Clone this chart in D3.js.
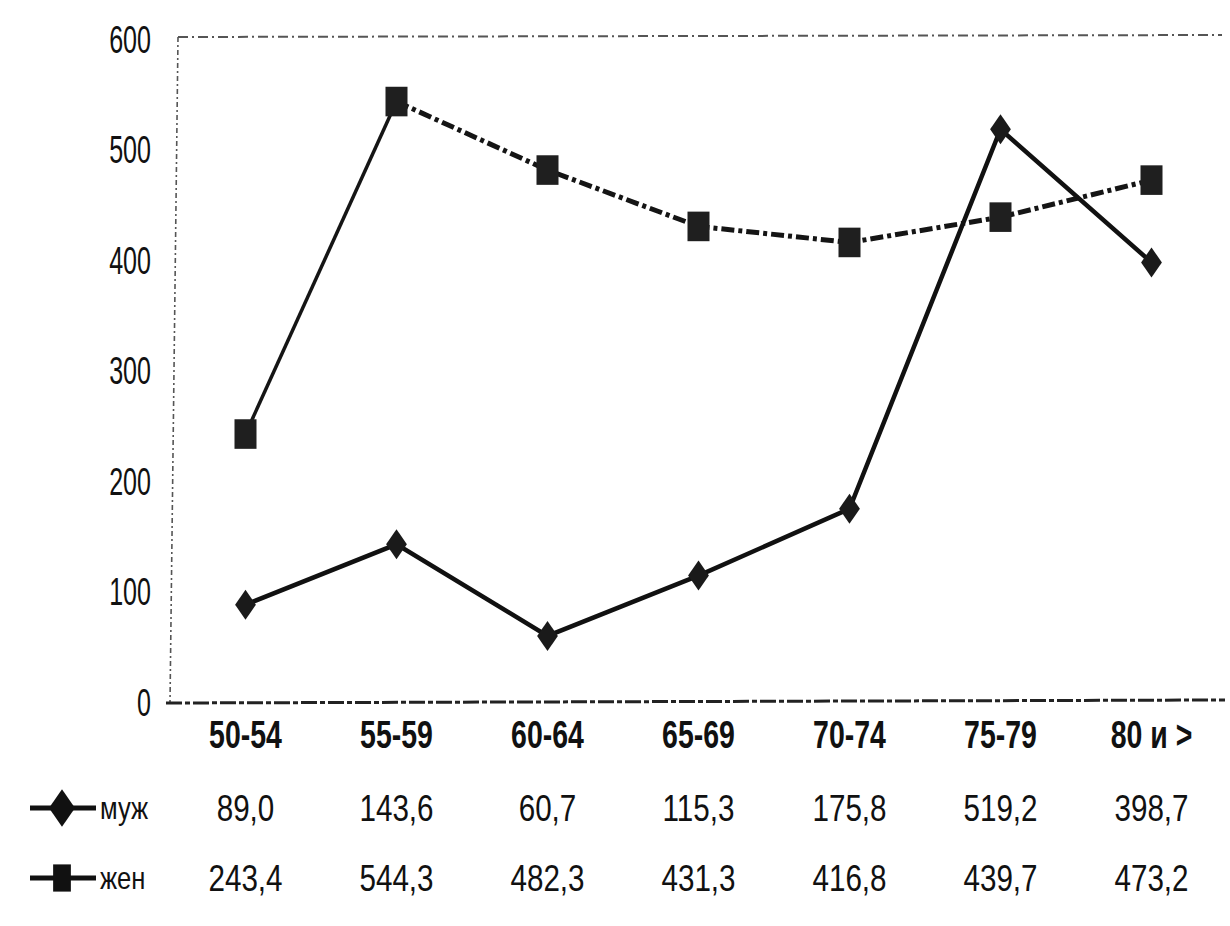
<!DOCTYPE html>
<html>
<head>
<meta charset="utf-8">
<script src="https://cdn.jsdelivr.net/npm/d3@7"></script>
<style>
  body { margin: 0; background: #fff; }
  svg text { font-family: "Liberation Sans", Arial, sans-serif; fill: #111; }
</style>
</head>
<body>
<div id="chart"></div>
<script>
// age groups and rates (per 100 000)
var ageGroups = ["50-54", "55-59", "60-64", "65-69", "70-74", "75-79", "80 и >"];
var maleValues = [89.0, 143.6, 60.7, 115.3, 175.8, 519.2, 398.7];
var femaleValues = [243.4, 544.3, 482.3, 431.3, 416.8, 439.7, 473.2];
var yTicks = [0, 100, 200, 300, 400, 500, 600];

var width = 1230, height = 926;

var svg = d3.select("#chart")
    .append("svg")
    .attr("width", width)
    .attr("height", height);

var x = d3.scaleBand()
    .domain(ageGroups)
    .range([170, 1227]);

var y = d3.scaleLinear()
    .domain([0, 600])
    .range([703, 40]);

var cx = function(d, i) { return x(ageGroups[i]) + x.bandwidth() / 2; };

// frame: dash-dot top, dashed left, heavy dashed baseline
svg.append("line")
    .attr("x1", 178).attr("x2", 1222)
    .attr("y1", y(600) - 3).attr("y2", y(600) - 5)
    .attr("stroke", "#555").attr("stroke-width", 2)
    .attr("stroke-dasharray", "10,4,2,4");

svg.append("line")
    .attr("x1", 178).attr("x2", 170)
    .attr("y1", y(600) - 3).attr("y2", y(0))
    .attr("stroke", "#555").attr("stroke-width", 1.6)
    .attr("stroke-dasharray", "5,3,2,3");

svg.append("line")
    .attr("x1", 166).attr("x2", 1225)
    .attr("y1", y(0)).attr("y2", y(0) - 3)
    .attr("stroke", "#222").attr("stroke-width", 3)
    .attr("stroke-dasharray", "16,3,5,3");

// y axis labels (tall, narrow, light)
var yAxis = d3.axisLeft(y)
    .tickValues(yTicks)
    .tickSize(0)
    .tickPadding(0)
    .tickFormat(d3.format("d"));

svg.append("g")
    .attr("transform", "translate(151,0)")
    .call(yAxis)
    .call(function(g) { g.select(".domain").remove(); })
    .selectAll("text")
    .attr("font-size", 38)
    .attr("font-family", "'Liberation Sans', sans-serif")
    .attr("transform", "scale(0.66,1)")
    .attr("fill", "#2a2a2a");

// x axis category labels
var xAxis = d3.axisBottom(x).tickSize(0).tickPadding(0);

svg.append("g")
    .attr("transform", "translate(0,720)")
    .call(xAxis)
    .call(function(g) { g.select(".domain").remove(); })
    .selectAll("text")
    .attr("font-size", 39)
    .attr("font-weight", "bold")
    .attr("font-family", "'Liberation Sans', sans-serif")
    .attr("transform", "scale(0.73,1)")
    .attr("fill", "#111");

var line = d3.line()
    .x(function(d) { return d.x; })
    .y(function(d) { return y(d.v); });

var femalePts = femaleValues.map(function(v, i) { return { x: cx(v, i), v: v }; });
var malePts = maleValues.map(function(v, i) { return { x: cx(v, i), v: v }; });

// жен: first segment printed solid, the rest dash-dot, square markers
svg.append("path")
    .datum(femalePts.slice(0, 2))
    .attr("d", line)
    .attr("fill", "none")
    .attr("stroke", "#151515")
    .attr("stroke-width", 3.5);

svg.append("path")
    .datum(femalePts.slice(1))
    .attr("d", line)
    .attr("fill", "none")
    .attr("stroke", "#151515")
    .attr("stroke-width", 5)
    .attr("stroke-dasharray", "13,4,4,4");

// муж: solid line with diamonds
svg.append("path")
    .datum(malePts)
    .attr("d", line)
    .attr("fill", "none")
    .attr("stroke", "#111")
    .attr("stroke-width", 4.5);

var diamond = d3.symbol().type(d3.symbolDiamond).size(260);
var square = d3.symbol().type(d3.symbolSquare).size(560);

svg.selectAll(".m-marker")
    .data(malePts)
    .enter()
    .append("path")
    .attr("class", "m-marker")
    .attr("d", diamond)
    .attr("transform", function(d) { return "translate(" + d.x + "," + y(d.v) + ") scale(1.2,1)"; })
    .attr("fill", "#1a1a1a");

svg.selectAll(".f-marker")
    .data(femalePts)
    .enter()
    .append("path")
    .attr("class", "f-marker")
    .attr("d", square)
    .attr("transform", function(d) { return "translate(" + d.x + "," + y(d.v) + ") scale(0.93,1.25)"; })
    .attr("fill", "#1f1f1f");

// data table under the axis
var fmt = function(v) { return v.toFixed(1).replace(".", ","); };
var rows = [
    { name: "муж", values: maleValues, y: 808, marker: diamond, mscale: "scale(1.5,1.25)" },
    { name: "жен", values: femaleValues, y: 878, marker: square, mscale: "scale(0.75,1.15)" }
];

rows.forEach(function(r) {
    var g = svg.append("g");

    g.append("line")
        .attr("x1", 30).attr("x2", 96)
        .attr("y1", r.y).attr("y2", r.y)
        .attr("stroke", "#111").attr("stroke-width", 5);

    g.append("path")
        .attr("d", r.marker)
        .attr("transform", "translate(62," + r.y + ") " + r.mscale)
        .attr("fill", "#111");

    g.append("text")
        .attr("transform", "translate(100," + (r.y + 11) + ") scale(0.8,1)")
        .attr("font-size", 32)
        .text(r.name);

    g.selectAll(".val")
        .data(r.values)
        .enter()
        .append("text")
        .attr("class", "val")
        .attr("transform", function(d, i) { return "translate(" + cx(d, i) + "," + (r.y + 13) + ") scale(0.8,1)"; })
        .attr("text-anchor", "middle")
        .attr("font-size", 37)
        .text(fmt);
});
</script>
</body>
</html>
